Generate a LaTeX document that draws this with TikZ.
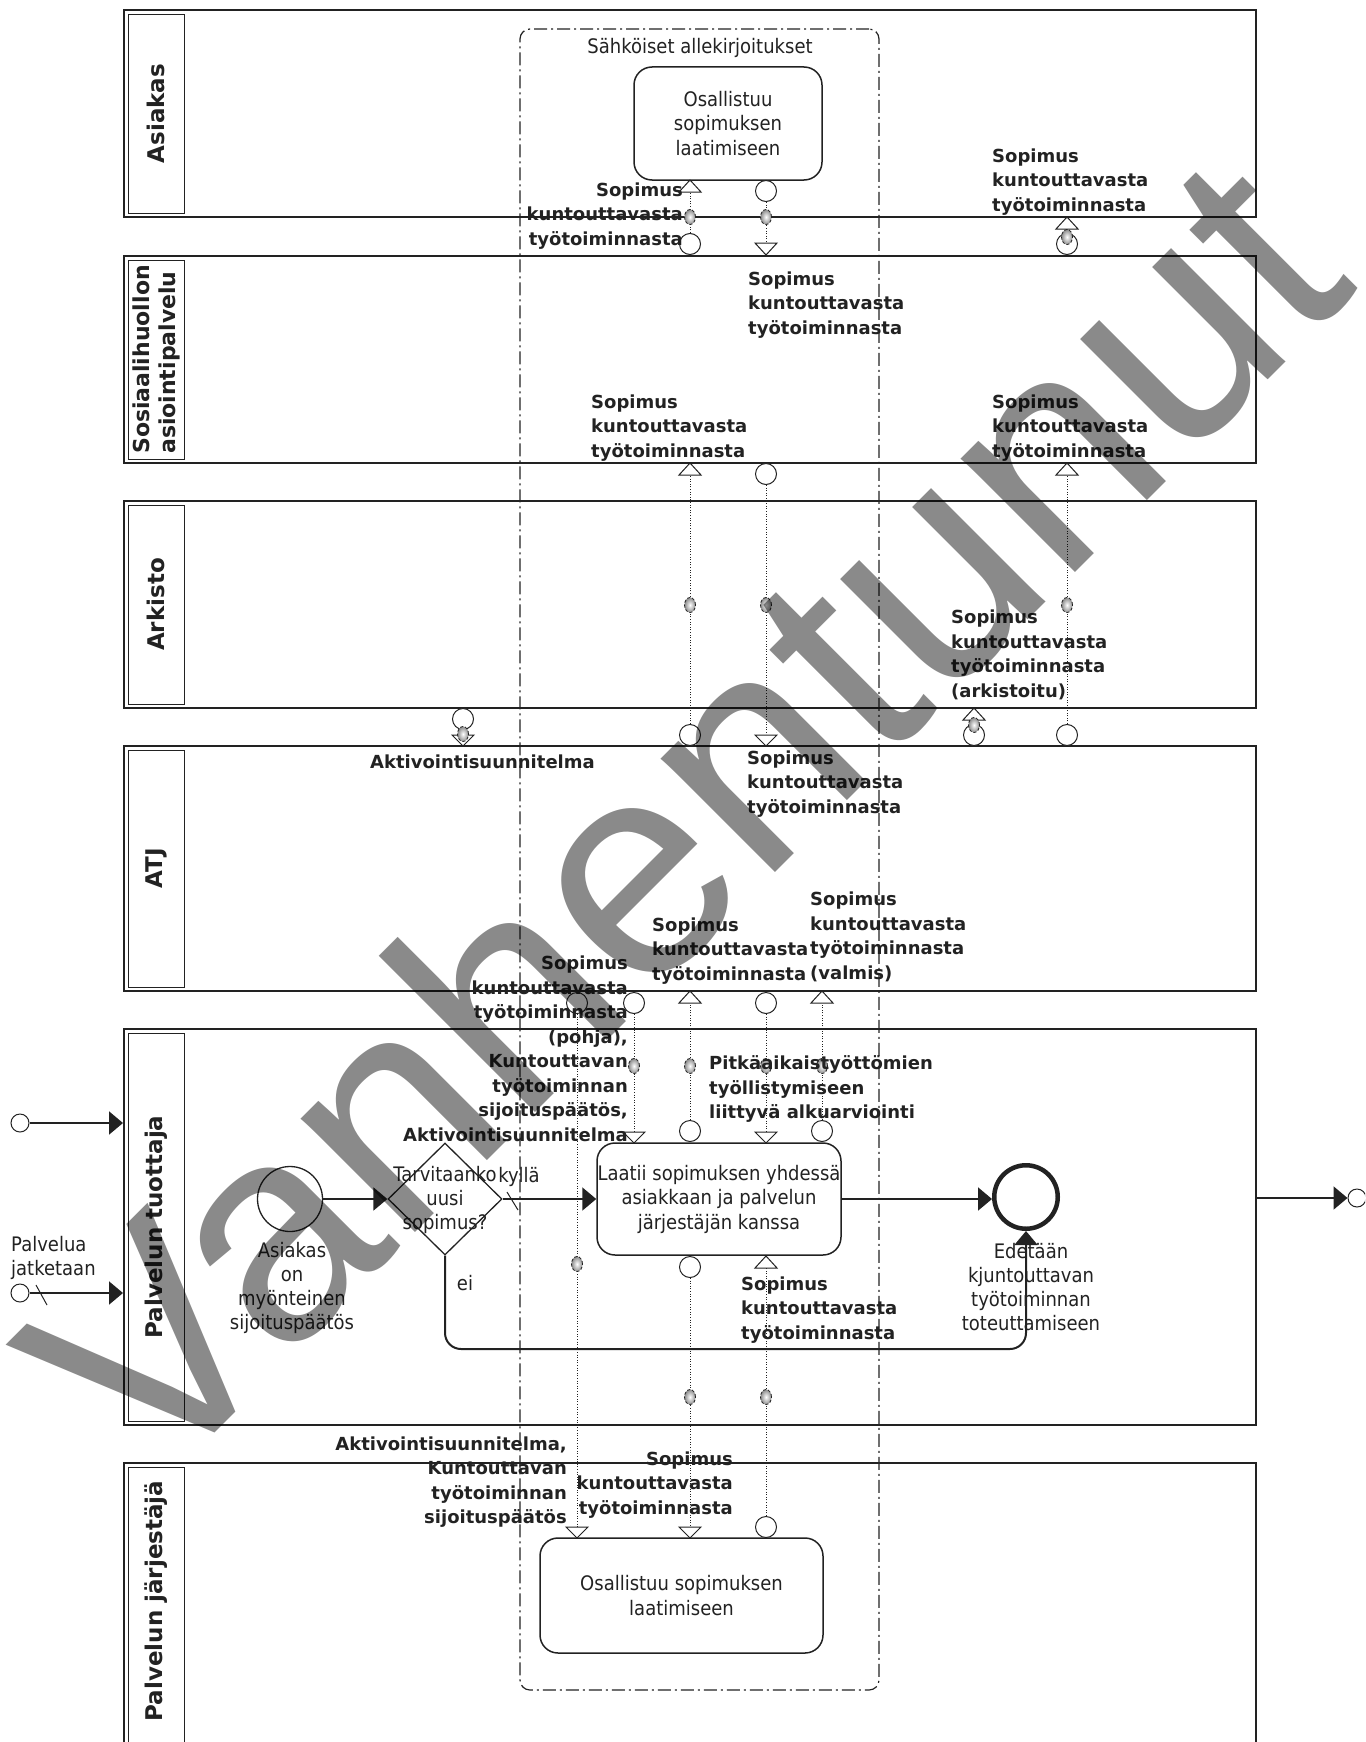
\documentclass[tikz,border=0pt]{standalone}
\usepackage{fontspec}
\setmainfont{DejaVu Sans}
\newfontfamily\regfont[FakeStretch=0.9]{DejaVu Sans}
\newfontfamily\wmfont{Liberation Sans}
\usetikzlibrary{shapes.geometric,arrows.meta}

\definecolor{ink}{HTML}{222222}

\tikzset{
  pool/.style={draw=ink, line width=2pt, inner sep=0pt},
  lanehead/.style={draw=ink, line width=0.9pt, inner sep=0pt, minimum width=56pt},
  lanetext/.style={rotate=90, font=\bfseries\fontsize{23}{27}\selectfont, text=ink, align=left, inner sep=0pt},
  grp/.style={draw=ink, line width=1.2pt, rounded corners=10pt, dash pattern=on 13pt off 4pt on 2pt off 4pt, inner sep=0pt},
  task/.style={draw=ink, line width=1.5pt, rounded corners=18pt, fill=white, inner sep=0pt, align=center, font=\regfont\fontsize{20}{24.5}\selectfont, text=ink},
  reg/.style={font=\regfont\fontsize{20}{24}\selectfont, text=ink, inner sep=0pt, align=center},
  lbl/.style={font=\bfseries\fontsize{18}{24.5}\selectfont, text=ink, inner sep=0pt},
  seq/.style={draw=ink, line width=2pt, -{Triangle[length=14pt,width=23pt]}},
  evsmall/.style={circle, draw=ink, fill=white, line width=1pt, minimum size=18pt, inner sep=0pt},
  msgsrc/.style={circle, draw=ink, fill=white, line width=1pt, minimum size=21pt, inner sep=0pt},
  msgline/.style={draw=ink, line width=1pt, dash pattern=on 1pt off 1.6pt},
  msgtri/.style={draw=ink, fill=white, line width=1pt, line join=miter},
  msgicon/.style={ellipse, draw=ink, densely dashed, line width=0.8pt, minimum width=11pt, minimum height=15pt, inner sep=0pt, inner color=white, outer color=black!45},
}

% message flow: name, x, source circle y, arrow tip y, arrow base y, icon y
\newcommand\msgflow[6]{%
  \coordinate (#1t) at (#2,#4);
  \coordinate (#1b) at (#2,#5);
  \node[msgsrc] (#1s) at (#2,#3) {};
  \draw[msgline] (#1s) -- (#1b);
  \draw[msgtri] (#1t) -- ([xshift=-11pt]#1b) -- ([xshift=11pt]#1b) -- cycle;
  \node[msgicon] (#1i) at (#2,#6) {};
}

\begin{document}
\begin{tikzpicture}[x=1pt, y=-1pt]
\useasboundingbox (0,0) rectangle (1365,1742);
\clip (0,0) rectangle (1365,1742);

% pools
\node[pool, minimum width=1132pt, minimum height=207pt] (p1) at (690,113.5) {};
\node[pool, minimum width=1132pt, minimum height=207pt] (p2) at (690,359.5) {};
\node[pool, minimum width=1132pt, minimum height=207pt] (p3) at (690,604.5) {};
\node[pool, minimum width=1132pt, minimum height=245pt] (p4) at (690,868.5) {};
\node[pool, minimum width=1132pt, minimum height=396pt] (p5) at (690,1227) {};
\node[pool, minimum width=1132pt, minimum height=307pt] (p6) at (690,1616.5) {};

% lane headers
\node[lanehead, minimum height=199pt] (h1) at (156,113.5) {};
\node[lanehead, minimum height=199pt] (h2) at (156,359.5) {};
\node[lanehead, minimum height=199pt] (h3) at (156,604.5) {};
\node[lanehead, minimum height=237pt] (h4) at (156,868.5) {};
\node[lanehead, minimum height=388pt] (h5) at (156,1227) {};
\node[lanehead, minimum height=299pt] (h6) at (156,1616.5) {};
\node[lanetext] (h1t) at (h1.center) {Asiakas};
\node[lanetext, font=\bfseries\fontsize{22}{26}\selectfont] (h2t) at (h2.center) {Sosiaalihuollon\\asiointipalvelu};
\node[lanetext] (h3t) at (h3.center) {Arkisto};
\node[lanetext] (h4t) at (h4.center) {ATJ};
\node[lanetext] (h5t) at (h5.center) {Palvelun tuottaja};
\node[lanetext] (h6t) at (156,1601) {Palvelun järjestäjä};

% group
\node[grp, minimum width=359pt, minimum height=1661pt] (grp) at (699.5,859.5) {};
\node[reg] (grplbl) at (700,48) {Sähköiset allekirjoitukset};

% tasks
\node[task, minimum width=188pt, minimum height=113pt] (t1) at (728,123.5) {Osallistuu\\sopimuksen\\laatimiseen};
\node[task, minimum width=244pt, minimum height=112pt] (t2) at (719,1199) {Laatii sopimuksen yhdessä\\asiakkaan ja palvelun\\järjestäjän kanssa};
\node[task, minimum width=283pt, minimum height=115pt] (t3) at (681.5,1595.5) {Osallistuu sopimuksen\\laatimiseen};

% events and gateway
\node[circle, draw=ink, line width=1.3pt, minimum size=65pt, inner sep=0pt] (start) at (290,1199) {};
\node[reg] (startlbl) at (292,1288) {Asiakas\\on\\myönteinen\\sijoituspäätös};
\node[diamond, draw=ink, line width=1.3pt, minimum width=114pt, minimum height=112pt, inner sep=0pt] (gw) at (445,1199) {};
\node[reg] (gwlbl) at (445,1200) {Tarvitaanko\\uusi\\sopimus?};
\node[reg] (yes) at (519,1177) {kyllä};
\node[reg] (no) at (465,1283) {ei};
\node[circle, draw=ink, line width=4.5pt, minimum size=63.5pt, inner sep=0pt] (end) at (1026,1197) {};
\node[reg] (endlbl) at (1031,1287) {Edetään\\kjuntouttavan\\työtoiminnan\\toteuttamiseen};

\node[evsmall] (ext1) at (20,1123) {};
\node[evsmall] (ext2) at (20,1293) {};
\node[reg, align=left, anchor=west] (ext2lbl) at (11,1257.5) {Palvelua\\jatketaan};
\node[evsmall] (ext3) at (1357,1198) {};

% sequence flows
\draw[seq] (ext1) -- (ext1 -| p5.west);
\draw[seq] (ext2) -- (ext2 -| p5.west);
\draw[ink, line width=1pt] (36,1285) -- (47,1305);
\draw[seq] (start) -- (gw);
\draw[seq] (gw.east) -- (t2.west);
\draw[ink, line width=1pt] (507,1192) -- (518,1210);
\coordinate (eicorner) at (1026,1349);
\draw[seq, rounded corners=16pt] (gw.south) |- (eicorner) -- (end.south);
\draw[seq] (t2.east) -- (t2.east -| end.west);
\draw[seq] (p5.east |- ext3) -- (ext3);

% message flows
\msgflow{f1}{690}{244}{180}{192}{217}
\msgflow{f2}{766}{191}{255}{243}{217}
\msgflow{f3}{1067}{244}{217}{229}{237}
\msgflow{f4}{690}{735}{463}{475}{605}
\msgflow{f5}{766}{474}{746}{735}{605}
\msgflow{f6}{1067}{735}{463}{475}{605}
\msgflow{f7}{974}{735}{708}{720}{725}
\msgflow{f8}{463}{719}{746}{735}{734}
\msgflow{f9}{577}{1003}{1538}{1527}{1264}
\msgflow{f10}{634}{1003}{1143}{1132}{1066}
\msgflow{f11}{690}{1131}{991}{1003}{1066}
\msgflow{f12}{766}{1003}{1143}{1132}{1066}
\msgflow{f13}{822}{1131}{991}{1003}{1066}
\msgflow{f14}{690}{1267}{1538}{1527}{1397}
\msgflow{f15}{766}{1527}{1256}{1268}{1397}

% message labels
\node[lbl, align=right, anchor=east] (f1l) at (683,216) {Sopimus\\kuntouttavasta\\työtoiminnasta};
\node[lbl, align=left, anchor=west] (f2l) at (748,305) {Sopimus\\kuntouttavasta\\työtoiminnasta};
\node[lbl, align=left, anchor=west] (f3l) at (992,182) {Sopimus\\kuntouttavasta\\työtoiminnasta};
\node[lbl, align=left, anchor=west] (f4l) at (591,428) {Sopimus\\kuntouttavasta\\työtoiminnasta};
\node[lbl, align=left, anchor=west] (f5l) at (747,784) {Sopimus\\kuntouttavasta\\työtoiminnasta};
\node[lbl, align=left, anchor=west] (f6l) at (992,428) {Sopimus\\kuntouttavasta\\työtoiminnasta};
\node[lbl, align=left, anchor=west] (f7l) at (951,655) {Sopimus\\kuntouttavasta\\työtoiminnasta\\(arkistoitu)};
\node[lbl, anchor=west] (f8l) at (370,762) {Aktivointisuunnitelma};
\node[lbl, align=right, anchor=east] (f9l) at (567,1482) {Aktivointisuunnitelma,\\Kuntouttavan\\työtoiminnan\\sijoituspäätös};
\node[lbl, align=right, anchor=east] (f10l) at (628,1049) {Sopimus\\kuntouttavasta\\työtoiminnasta\\(pohja),\\Kuntouttavan\\työtoiminnan\\sijoituspäätös,\\Aktivointisuunnitelma};
\node[lbl, align=left, anchor=west] (f11l) at (652,951) {Sopimus\\kuntouttavasta\\työtoiminnasta};
\node[lbl, align=left, anchor=west] (f12l) at (709,1089) {Pitkäaikaistyöttömien\\työllistymiseen\\liittyvä alkuarviointi};
\node[lbl, align=left, anchor=west] (f13l) at (810,937) {Sopimus\\kuntouttavasta\\työtoiminnasta\\(valmis)};
\node[lbl, align=right, anchor=east] (f14l) at (733,1485) {Sopimus\\kuntouttavasta\\työtoiminnasta};
\node[lbl, align=left, anchor=west] (f15l) at (741,1310) {Sopimus\\kuntouttavasta\\työtoiminnasta};

% status stamp across the sheet
\node[font=\wmfont\fontsize{305}{305}\selectfont, text=black, text opacity=0.46, rotate=45, anchor=base west, inner sep=0pt] (stamp) at (153,1495) {Vanhentunut};
\end{tikzpicture}
\end{document}
